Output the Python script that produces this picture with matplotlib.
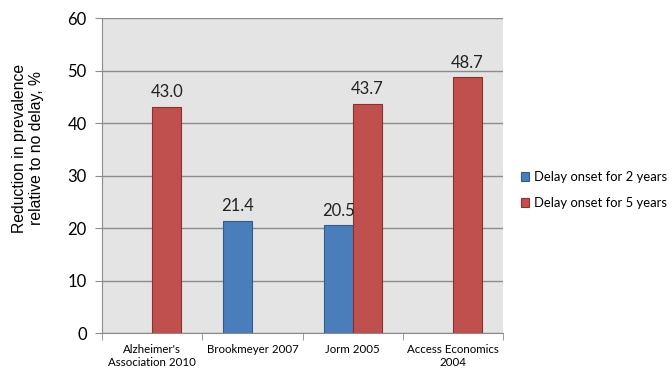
import numpy as np
import matplotlib
matplotlib.use("Agg")
import matplotlib.pyplot as plt

categories = ["Alzheimer's\nAssociation 2010", "Brookmeyer 2007", "Jorm 2005", "Access Economics\n2004"]
delay_2yr = [np.nan, 21.4, 20.5, np.nan]
delay_5yr = [43.0, np.nan, 43.7, 48.7]
series_names = ["Delay onset for 2 years", "Delay onset for 5 years"]

fig = plt.figure(figsize=(6.72, 3.72), dpi=100)
ax = fig.add_axes([0.1518, 0.1048, 0.5967, 0.8468])

ax.set_facecolor("#e4e4e4")
x = np.arange(len(categories))
w = 0.29
b1 = ax.bar(x - w / 2, delay_2yr, w, color="#4a7ebb", edgecolor="#2f5b8f", linewidth=0.8,
            label=series_names[0], zorder=3)
b2 = ax.bar(x + w / 2, delay_5yr, w, color="#c0504d", edgecolor="#8c2f2d", linewidth=0.8,
            label=series_names[1], zorder=3)

for bars, vals in ((b1, delay_2yr), (b2, delay_5yr)):
    for rect, v in zip(bars, vals):
        if np.isnan(v):
            continue
        ax.text(rect.get_x() + rect.get_width() / 2, v + 1.3, f"{v:.1f}",
                ha="center", va="bottom", fontsize=12, family="Lato", color="#222222")

ax.set_xlim(-0.5, len(categories) - 0.5)
ax.set_ylim(0, 60)
ax.set_yticks(range(0, 61, 10))
ax.set_yticklabels([str(v) for v in range(0, 61, 10)], family="Lato", fontsize=12)
ax.yaxis.grid(True, color="#8c8c8c", linewidth=1.0, zorder=0)
ax.set_axisbelow(True)

ax.set_xticks(x)
ax.set_xticklabels(categories, family="Lato", fontsize=8.3)
ax.tick_params(axis="x", length=0, pad=8)
ax.set_xticks(np.arange(-0.5, len(categories), 1.0), minor=True)
ax.tick_params(axis="x", which="minor", length=5, color="#8c8c8c")
ax.tick_params(axis="y", length=5, color="#8c8c8c", pad=6)

for side in ("top", "right"):
    ax.spines[side].set_visible(False)
for side in ("left", "bottom"):
    ax.spines[side].set_color("#8c8c8c")

fig.text(28 / 672, 1 - 148 / 372, "Reduction in prevalence\nrelative to no delay, %",
         rotation=90, ha="center", va="center", family="Liberation Sans",
         fontsize=11.3, linespacing=1.2, multialignment="center")

fig.legend(handles=[b1, b2], labels=series_names, loc="center left",
           bbox_to_anchor=(0.775, 0.489), frameon=False, prop={"family": "Lato", "size": 9.4},
           handlelength=0.65, handleheight=0.65, handletextpad=0.35, labelspacing=1.05,
           borderaxespad=0, borderpad=0)

fig.savefig("out.png", dpi=100, facecolor="white")
